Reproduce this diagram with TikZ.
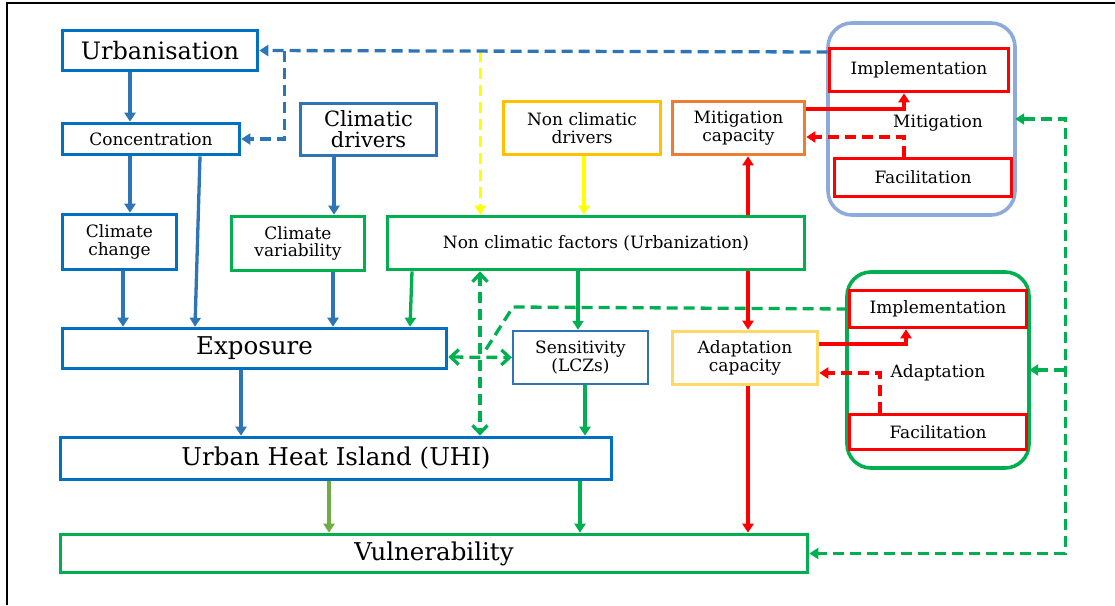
\documentclass[tikz,border=0pt]{standalone}
\usepackage{fontspec}
\setmainfont{DejaVu Serif}
\usetikzlibrary{arrows.meta}
\definecolor{dblue}{HTML}{0070C0}
\definecolor{sblue}{HTML}{2E75B6}
\definecolor{lblue}{HTML}{8EAADB}
\definecolor{grn}{HTML}{00B050}
\definecolor{lgrn}{HTML}{70AD47}
\definecolor{gold}{HTML}{FFC000}
\definecolor{orng}{HTML}{ED7D31}
\definecolor{pale}{HTML}{FFD966}
\definecolor{yel}{HTML}{FFFF00}

\begin{document}
\begin{tikzpicture}[x=1pt,y=-1pt,
  box/.style={draw,fill=white,line width=3.6pt,inner sep=1pt,align=center},
  grp/.style={draw,line width=3.6pt,rounded corners=24pt},
  big/.style={font=\fontsize{24.5}{26}\selectfont},
  mid/.style={font=\fontsize{21}{21}\selectfont},
  sml/.style={font=\fontsize{17}{17.5}\selectfont},
  tip/.style={line width=3.3pt,-{Triangle[length=9pt,width=11pt]}},
  dtip/.style={tip,dash pattern=on 11pt off 6pt},
  barb/.style={line width=3.3pt,dash pattern=on 11pt off 6pt,{Straight Barb[length=8pt,width=15pt]}-{Straight Barb[length=8pt,width=15pt]}}]
\useasboundingbox (0,0) rectangle (1115,605);
\draw[line width=1.8pt] (7,605) -- (7,3) -- (1115,3);

% groups
\draw[grp,lblue] (828,23) rectangle (1015,215);
\node (mgrp) at (921.5,119) [minimum width=187pt,minimum height=192pt] {};
\draw[grp,grn] (847,272) rectangle (1029,468);
\node (agrp) at (938,370) [minimum width=182pt,minimum height=196pt] {};
\node[sml] (mlab) at (938,123) {Mitigation};
\node[sml] (alab) at (938,373) {Adaptation};

% boxes
\node[box,draw=dblue,big,font=\fontsize{24}{26}\selectfont,minimum width=195pt,minimum height=40pt] (urb) at (160,50.5) {Urbanisation};
\node[box,draw=dblue,sml,minimum width=177pt,minimum height=31pt] (conc) at (151,139) {Concentration};
\node[box,draw=sblue,mid,minimum width=136pt,minimum height=52pt] (cdrv) at (368.5,129.5) {Climatic\\drivers};
\node[box,draw=dblue,sml,minimum width=114pt,minimum height=55pt] (cchg) at (119.5,242) {Climate\\change};
\node[box,draw=grn,sml,minimum width=133pt,minimum height=54pt] (cvar) at (298,243.5) {Climate\\variability};
\node[box,draw=gold,sml,minimum width=157pt,minimum height=53pt] (ncd) at (582,128) {Non climatic\\drivers};
\node[box,draw=orng,sml,minimum width=132pt,minimum height=53pt] (mcap) at (738.5,128) {Mitigation\\capacity};
\node[box,draw=grn,sml,minimum width=417pt,minimum height=53pt] (ncf) at (596,243) {Non climatic factors (Urbanization)};
\node[box,draw=red,sml,minimum width=179pt,minimum height=43pt] (mimp) at (919,70) {Implementation};
\node[box,draw=red,sml,minimum width=177pt,minimum height=38pt] (mfac) at (923,177.5) {Facilitation};
\node[box,draw=red,sml,minimum width=177pt,minimum height=37pt] (aimp) at (938,309) {Implementation};
\node[box,draw=red,sml,minimum width=177pt,minimum height=35pt] (afac) at (938,432) {Facilitation};
\node[box,draw=dblue,big,minimum width=384pt,minimum height=40pt] (expo) at (254.5,348.5) {Exposure};
\node[box,draw=sblue,sml,line width=2.4pt,minimum width=135pt,minimum height=53pt] (sens) at (580.5,357.5) {Sensitivity\\(LCZs)};
\node[box,draw=pale,sml,minimum width=145pt,minimum height=53pt] (acap) at (745,358) {Adaptation\\capacity};
\node[box,draw=dblue,big,minimum width=551pt,minimum height=42pt] (uhi) at (336,458.5) {Urban Heat Island (UHI)};
\node[box,draw=grn,big,minimum width=747pt,minimum height=38pt] (vuln) at (434,553.5) {Vulnerability};

% blue arrows
\foreach \p/\s/\q/\t in {urb/-30/conc/-21, conc/-21/cchg/10.5, conc/49/expo/-59.5,
                         cchg/3.5/expo/-131.5, cdrv/-34.5/cvar/36, cvar/35/expo/78.5,
                         expo/-13.5/uhi/-95}
  \draw[tip,sblue] ([xshift=\s]\p.south) -- ([xshift=\t]\q.north);
% green arrows
\foreach \p/\s/\q/\t in {ncf/-184/expo/155.5, ncf/-18/sens/-2.5, sens/4.5/uhi/249, uhi/244/vuln/146}
  \draw[tip,grn] ([xshift=\s]\p.south) -- ([xshift=\t]\q.north);
\draw[tip,lgrn] ([xshift=-7]uhi.south) -- ([xshift=-105]vuln.north);
% red arrows
\draw[tip,red] ([xshift=152]ncf.north) -- ([xshift=9.5]mcap.south);
\draw[tip,red] ([xshift=152]ncf.south) -- ([xshift=3]acap.north);
\draw[tip,red] ([xshift=3]acap.south) -- ([xshift=314]vuln.north);
\draw[tip,red] ([yshift=19]mcap.east) -| ([xshift=-15]mimp.south);
\draw[dtip,red] ([xshift=-19]mfac.north) |- ([yshift=-9]mcap.east);
\draw[tip,red] ([yshift=14]acap.east) -| ([xshift=-32]aimp.south);
\draw[dtip,red] ([xshift=-58]afac.north) |- ([yshift=-15]acap.east);
% yellow
\draw[tip,yel] ([xshift=2]ncd.south) -- ([xshift=-12]ncf.north);
\coordinate (bj) at ([xshift=25]urb.east);
\coordinate (yj) at ([xshift=221]urb.east);
\draw[dtip,yel] (yj) -- (yj |- ncf.north);
% blue dashed
\draw[dtip,sblue] ([yshift=18]mimp.west) -- (urb.east);
\draw[dtip,sblue] (bj) |- (conc.east);
% green dashed
\coordinate (gk) at (513,307);
\coordinate (gx) at (483,354);
\draw[line width=3.3pt,grn,dash pattern=on 11pt off 6pt] (aimp.west) -- (gk) -- (gx);
\draw[barb,grn] ([xshift=-116]ncf.south) -- ([xshift=144]uhi.north);
\draw[barb,grn] ([yshift=-8.5]expo.east) -- (sens.west);
\draw[dtip,grn,{Triangle[length=9pt,width=11pt]}-{Triangle[length=9pt,width=11pt]}] (mgrp.east) -- ++(50,0) coordinate (gb) |- (vuln.east);
\draw[dtip,grn] (gb |- agrp.east) -- (agrp.east);
\end{tikzpicture}
\end{document}
